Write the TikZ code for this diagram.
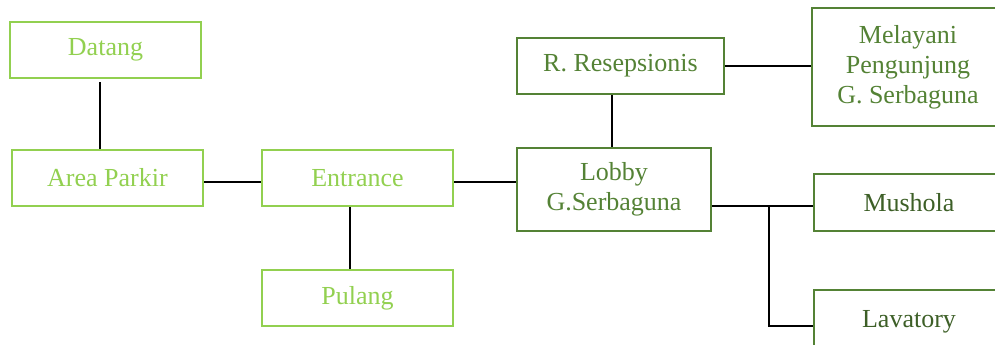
\documentclass[tikz,border=0pt]{standalone}
\usepackage{fontspec}
\setmainfont{Liberation Serif}
\definecolor{lightgrn}{HTML}{92D050}
\definecolor{darkgrn}{HTML}{548235}
\definecolor{deepgrn}{HTML}{3D5F27}
\begin{document}
\begin{tikzpicture}[x=1pt,y=-1pt,
  box/.style={draw, line width=2.8pt, inner sep=0pt, align=center,
    font=\fontsize{26}{30}\selectfont},
  lightbox/.style={box, draw=lightgrn, text=lightgrn},
  darkbox/.style={box, draw=darkgrn, text=darkgrn},
  deepbox/.style={box, draw=darkgrn, text=deepgrn},
  link/.style={draw=black, line width=1.1pt}]
\useasboundingbox (0,0) rectangle (995,345);
\clip (0,0) rectangle (995,345);

% left chain
\node[lightbox, minimum width=191pt, minimum height=56pt] (dt) at (105.5,50) {Datang};
\node[lightbox, minimum width=191pt, minimum height=56pt] (ap) at (107.5,178) {Area Parkir};
\node[lightbox, minimum width=191pt, minimum height=56pt] (en) at (357.5,178) {Entrance};
\node[lightbox, minimum width=191pt, minimum height=56pt] (pl) at (357.5,298) {Pulang};

% lobby group
\node[darkbox, minimum width=207pt, minimum height=56pt] (rs) at (620.5,66) {R. Resepsionis};
\node[darkbox, minimum width=194pt, minimum height=83pt] (lb) at (614,189.5) {Lobby\\G.Serbaguna};
\node[darkbox, minimum width=192pt, minimum height=118pt] (ml) at (908,67) {Melayani\\Pengunjung\\G. Serbaguna};
\node[deepbox, minimum width=190pt, minimum height=57pt] (ms) at (909,202.5) {Mushola};
\node[deepbox, minimum width=190pt, minimum height=64pt] (lv) at (909,322) {Lavatory};

% connectors
\draw[link] ([xshift=-5.5pt,yshift=-3pt]dt.south) -- ([xshift=-7.5pt]ap.north);
\draw[link] ([yshift=-4pt]ap.east) -- ([yshift=-4pt]en.west);
\draw[link] ([xshift=-7.5pt]en.south) -- ([xshift=-7.5pt]pl.north);
\draw[link] ([yshift=-4pt]en.east) -- ([yshift=7.5pt]lb.west);
\draw[link] ([xshift=-2pt]lb.north) -- ([xshift=-8.5pt]rs.south);
\draw[link] (rs.east) -- (ml.west |- rs.east);
\draw[link] ([yshift=-16.5pt]lb.east) -- ([yshift=-3.5pt]ms.west);
\coordinate (br) at (769,206);
\draw[link] (br) |- ([yshift=-4pt]lv.west);
\end{tikzpicture}
\end{document}
